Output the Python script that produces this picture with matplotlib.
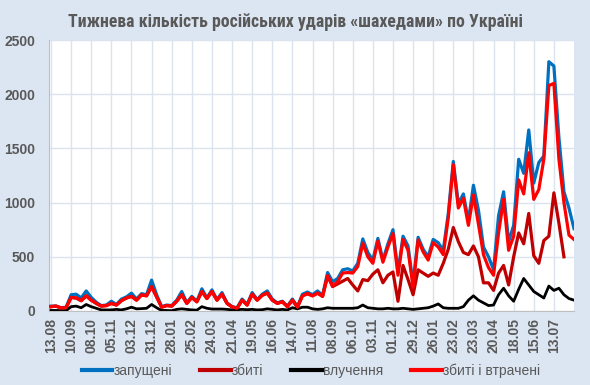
"""
Weekly Shahed strikes on Ukraine - line chart
"""
import matplotlib.pyplot as plt
import numpy as np

plt.rcParams['font.family'] = ['Liberation Sans', 'DejaVu Sans']

# weekly values, first week 13.08.2023
launched = [45, 45, 30, 35, 150, 155, 120, 185, 125, 80, 50, 55, 90, 60, 110, 130,
            165, 110, 160, 150, 285, 150, 40, 55, 50, 100, 180, 75, 135, 90, 205, 120,
            195, 105, 170, 75, 40, 30, 110, 60, 170, 105, 155, 185, 110, 75, 90, 45,
            110, 40, 155, 175, 150, 185, 145, 355, 270, 300, 380, 390, 370, 440, 665, 540,
            470, 670, 470, 620, 750, 360, 690, 600, 250, 680, 570, 500, 660, 630, 560, 900,
            1380, 990, 1080, 830, 1160, 930, 590, 500, 380, 880, 1100, 640, 790, 1400, 1270, 1670,
            1180, 1370, 1430, 2300, 2260, 1600, 1100, 950, 760]

shot_down = [40, 45, 28, 30, 125, 120, 95, 140, 100, 70, 45, 50, 70, 55, 95, 120,
             135, 100, 148, 140, 225, 130, 35, 50, 45, 90, 150, 70, 125, 85, 180, 115,
             180, 100, 155, 70, 38, 25, 100, 55, 155, 100, 145, 165, 100, 70, 85, 40,
             100, 35, 140, 160, 140, 165, 135, 325, 225, 250, 275, 300, 240, 185, 290, 280,
             340, 380, 260, 330, 360, 90, 420, 290, 150, 380, 350, 320, 350, 330, 440, 570,
             770, 640, 540, 520, 600, 500, 260, 260, 190, 350, 420, 240, 500, 720, 620, 900,
             510, 440, 650, 690, 1090, 810, 500, np.nan, np.nan]

hits = [5, 5, 3, 3, 40, 45, 30, 60, 40, 25, 10, 10, 10, 15, 10, 20,
        35, 20, 22, 25, 60, 30, 5, 5, 3, 15, 20, 15, 10, 8, 40, 25,
        18, 18, 18, 15, 10, 12, 15, 12, 15, 10, 12, 20, 15, 10, 15, 10,
        30, 20, 35, 35, 20, 15, 20, 30, 25, 25, 25, 25, 25, 30, 55, 30,
        25, 20, 20, 25, 20, 20, 25, 20, 15, 20, 25, 30, 45, 65, 30, 25,
        25, 25, 40, 100, 140, 100, 75, 50, 55, 150, 210, 140, 90, 200, 300, 240,
        180, 150, 120, 230, 190, 210, 150, 115, 100]

shot_lost = [40, 45, 28, 30, 125, 120, 95, 140, 100, 70, 45, 50, 70, 55, 95, 120,
             135, 100, 148, 140, 225, 130, 35, 50, 45, 90, 150, 70, 125, 85, 180, 115,
             180, 100, 155, 70, 38, 25, 100, 55, 155, 100, 145, 165, 100, 70, 85, 40,
             100, 35, 140, 160, 140, 165, 135, 325, 230, 270, 350, 355, 350, 410, 625, 500,
             440, 645, 450, 590, 715, 330, 660, 560, 220, 655, 545, 470, 630, 590, 520, 860,
             1350, 950, 1040, 790, 1070, 800, 520, 400, 330, 720, 1030, 560, 690, 1210, 1080, 1460,
             1030, 1120, 1400, 2080, 2100, 1400, 1000, 700, 660]

tick_labels = ['13.08', '10.09', '08.10', '05.11', '03.12', '31.12', '28.01', '25.02',
               '24.03', '21.04', '19.05', '16.06', '14.07', '11.08', '08.09', '06.10',
               '03.11', '01.12', '29.12', '26.01', '23.02', '23.03', '20.04', '18.05',
               '15.06', '13.07']

bg = '#DCE6F2'
txt = '#595959'

fig = plt.figure(figsize=(5.9, 3.85), dpi=100, facecolor=bg)
ax = fig.add_axes([49 / 590, 1 - 311 / 385, 525 / 590, 271 / 385])
ax.set_facecolor('white')

x = np.arange(len(launched))
ax.plot(x, launched, color='#0070C0', lw=2.3, label='запущені', zorder=3)
ax.plot(x, shot_down, color='#C00000', lw=2.3, label='збиті', zorder=4)
ax.plot(x, hits, color='black', lw=2.0, label='влучення', zorder=5)
ax.plot(x, shot_lost, color='#FF0000', lw=2.3, label='збиті і втрачені', zorder=6)

ax.set_xlim(-0.4, len(launched) - 1)
ax.set_ylim(0, 2500)
ax.set_yticks(range(0, 2501, 500))
ax.set_xticks(x[::4][:len(tick_labels)])
ax.set_xticklabels(tick_labels, rotation=90)

ax.grid(True, color='#DAE3EE', lw=1.0, zorder=0)
ax.tick_params(length=0, colors=txt, labelsize=10)
ax.tick_params(axis='y', pad=10)
ax.tick_params(axis='x', pad=5)
for lab in ax.get_xticklabels() + ax.get_yticklabels():
    lab.set_fontweight('bold')
    lab.set_color(txt)

for s in ['top', 'right']:
    ax.spines[s].set_visible(False)
for s in ['left', 'bottom']:
    ax.spines[s].set_color('#BFBFBF')

fig.text(0.5, 1 - 22 / 385, 'Тижнева кількість російських ударів «шахедами» по Україні',
         ha='center', va='center', fontsize=12.8, fontweight='bold', color=txt,
         family=['Liberation Sans Narrow', 'Roboto Condensed', 'Liberation Sans'])

leg = fig.legend(loc='center', bbox_to_anchor=(0.527, 1 - 371 / 385), ncol=4,
                 frameon=False, fontsize=10, handlelength=2.2, handletextpad=0.1,
                 columnspacing=2.0)
for t in leg.get_texts():
    t.set_color(txt)
for h in leg.get_lines():
    h.set_linewidth(3)

fig.savefig('out.png', dpi=100, facecolor=bg)
